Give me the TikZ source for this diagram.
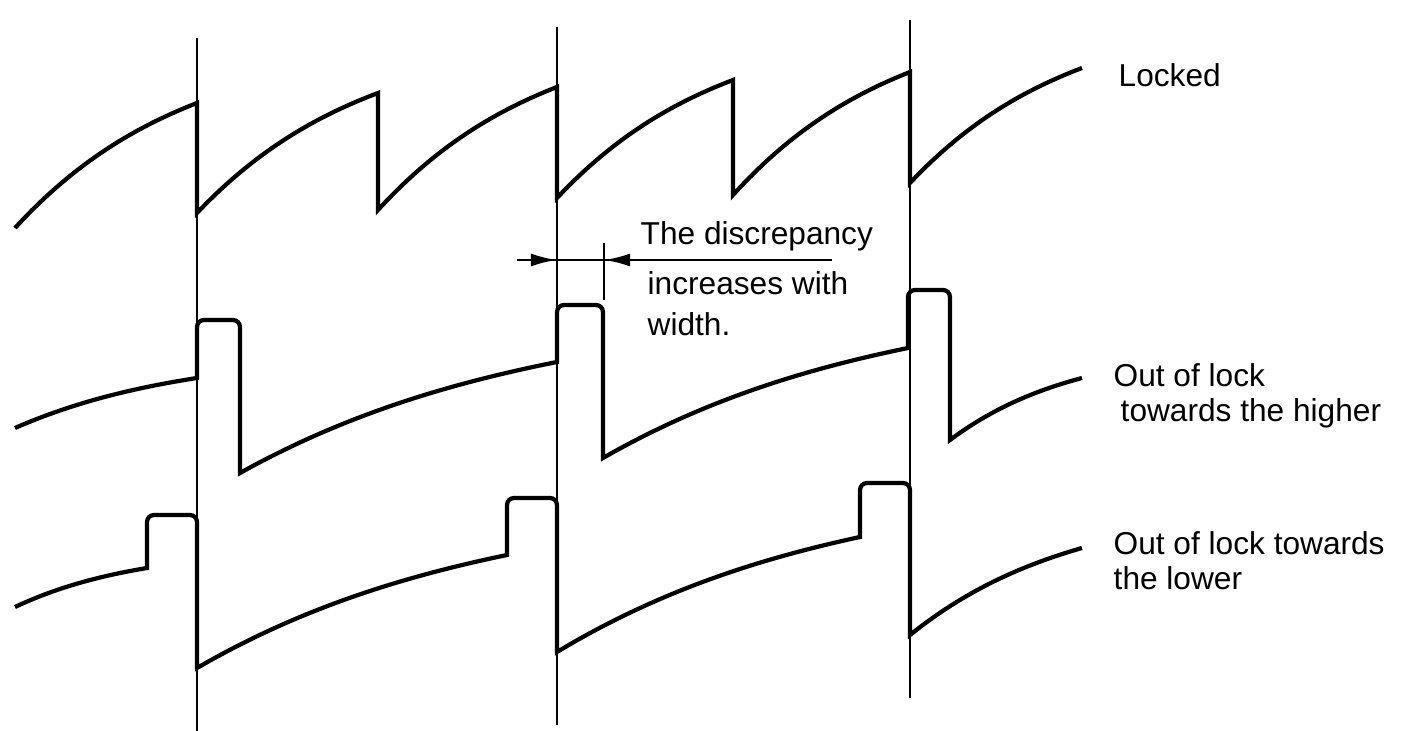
\documentclass[tikz,border=0pt]{standalone}
\usepackage{fontspec}
\setmainfont{Liberation Sans}
\usetikzlibrary{
  arrows.meta,
  calc,
  positioning
}
\tikzset{
wave/.style={
  line width=1.2pt
},
refline/.style={
  line width=0.8pt
},
dimline/.style={
  line width=0.8pt
},
dimarrow/.style={
  dimline,
  -{Latex[length=2.6mm,width=1.3mm]}
},
sigtext/.style={
  font=\fontsize{9}{10}\selectfont,
  align=left,
  inner sep=0pt,
  anchor=base west
},
charge/.style={
  to path={let \p1=(\tikztostart), \p2=(\tikztotarget) in
    .. controls ({\x1+(\x2-\x1)/3},{\y1+0.53*(\y2-\y1)})
    and ({\x1+2*(\x2-\x1)/3},{\y1+0.81*(\y2-\y1)}) .. (\tikztotarget)}
}
}

\begin{document}
\begin{tikzpicture}[x=0.01cm, y=-0.01cm]
      \useasboundingbox (0,0) rectangle (1408,731);

      % Reference lines
      \draw[refline] (197,38) -- (197,731);
      \draw[refline] (557,27) -- (557,725);
      \draw[refline] (910,20) -- (910,698);

      % Locked
      \draw[wave] (15,228) to[charge] (197,103) -- (197,213)
        to[charge] (378,93) -- (378,210)
        to[charge] (557,87) -- (557,198)
        to[charge] (733,80) -- (733,195)
        to[charge] (910,72) -- (910,183)
        to[charge] (1082,68);

      % Out of lock, higher
      \draw[wave] (15,428) to[charge] (197,378)
        [rounded corners=2pt] -- (197,320) -- (240,320) [sharp corners] -- (240,473)
        to[charge] (557,362)
        [rounded corners=2pt] -- (557,305) -- (603,305) [sharp corners] -- (603,458)
        to[charge] (908,348)
        [rounded corners=2pt] -- (908,290) -- (950,290) [sharp corners] -- (950,440)
        to[charge] (1082,378);

      % Out of lock, lower
      \draw[wave] (15,607) to[charge] (147,568)
        [rounded corners=2pt] -- (147,515) -- (197,515) [sharp corners] -- (197,668)
        to[charge] (507,555)
        [rounded corners=2pt] -- (507,498) -- (557,498) [sharp corners] -- (557,652)
        to[charge] (860,537)
        [rounded corners=2pt] -- (860,483) -- (910,483) [sharp corners] -- (910,635)
        to[charge] (1082,548);

      % Discrepancy
      \coordinate (dimL) at (517,260);
      \coordinate (dimR) at (832,260);
      \coordinate (extT) at (604,243);
      \coordinate (extB) at (604,300);
      \draw[dimline] (extT) -- (extB);
      \draw[dimline] (dimL) -- (dimR);
      \draw[dimarrow] (dimL) -- (dimL -| 557,0);
      \draw[dimarrow] (640,260) -- (dimL -| extT);

      \node[sigtext] (discrtop) at (640,245) {The discrepancy};
      \node[sigtext, font=\fontsize{9}{11.7}\selectfont] (discrbot) at (647,336) {increases with\\width.};

      % Labels
      \node[sigtext] (locked) at (1118,87) {Locked};
      \node[sigtext] (higher) at (1113,422) {Out of lock\\\hspace*{2pt}towards the higher};
      \node[sigtext] (lower) at (1113,590) {Out of lock towards\\the lower};
    \end{tikzpicture}
\end{document}
